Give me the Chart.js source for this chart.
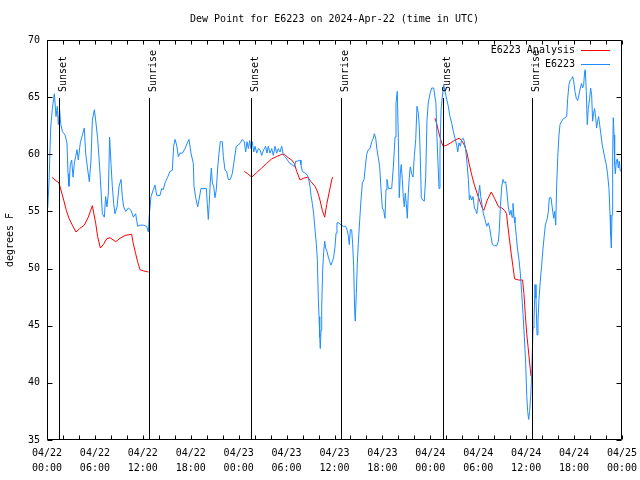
<!DOCTYPE html>
<html>
<head>
<meta charset="utf-8">
<title>Dew Point for E6223</title>
<script src="https://cdn.jsdelivr.net/npm/chart.js@4.4.1/dist/chart.umd.min.js"></script>
<style>
  html, body { margin: 0; padding: 0; background: #fff; }
</style>
</head>
<body>
<canvas id="dewpoint" width="640" height="480"></canvas>
<script>
const MONO = '"DejaVu Sans Mono", "Liberation Mono", monospace'
const chartTitle = 'Dew Point for E6223 on 2024-Apr-22 (time in UTC)'

// x ticks every 6 hours from 04/22 00:00 UTC
const tickDates = ['04/22', '04/22', '04/22', '04/22', '04/23', '04/23', '04/23', '04/23', '04/24', '04/24', '04/24', '04/24', '04/25']
const tickTimes = ['00:00', '06:00', '12:00', '18:00', '00:00', '06:00', '12:00', '18:00', '00:00', '06:00', '12:00', '18:00', '00:00']

// sunset / sunrise markers (hours since start)
const sunHours = [1.55, 12.8, 25.6, 36.85, 49.6, 60.75]
const sunLabels = ['Sunset', 'Sunrise', 'Sunset', 'Sunrise', 'Sunset', 'Sunrise']

// E6223 observations (hours since start, deg F)
const obsHours = [
  0.09, 0.25, 0.46, 0.67, 0.92, 1.13, 1.29, 1.42, 1.58, 1.71, 1.92, 2.25, 2.5, 2.63, 2.75, 2.92, 3.09, 3.26, 3.42, 3.59,
  3.76, 3.92, 4.17, 4.43, 4.67, 4.84, 5.05, 5.3, 5.51, 5.68, 5.93, 6.09, 6.34, 6.59, 6.76, 6.93, 7.18, 7.34, 7.51, 7.68,
  7.84, 8.01, 8.18, 8.35, 8.51, 8.77, 9.02, 9.27, 9.43, 9.6, 9.85, 10.18, 10.52, 10.81, 11.1, 11.35, 11.65, 12.06, 12.48, 12.69,
  12.81, 13.02, 13.31, 13.52, 13.74, 14.15, 14.36, 14.56, 14.78, 15.11, 15.4, 15.69, 15.86, 16.03, 16.24, 16.45, 16.65, 16.94, 17.28, 17.57,
  17.78, 18.03, 18.32, 18.41, 18.62, 18.87, 19.03, 19.28, 19.95, 20.07, 20.2, 20.32, 20.45, 20.58, 20.7, 20.87, 21.04, 21.2, 21.37, 21.54,
  21.7, 21.95, 22.08, 22.29, 22.5, 22.7, 22.95, 23.2, 23.45, 23.7, 23.96, 24.2, 24.45, 24.7, 24.88, 25.04, 25.21, 25.38, 25.54, 25.71,
  25.88, 26.05, 26.26, 26.46, 26.67, 26.88, 27.13, 27.38, 27.54, 27.71, 27.92, 28.14, 28.34, 28.55, 28.76, 28.96, 29.18, 29.39, 29.6, 29.8,
  30.0, 30.2, 30.4, 30.7, 30.97, 31.14, 31.39, 31.68, 31.8, 31.97, 32.22, 32.47, 32.72, 32.93, 33.06, 33.22, 33.39, 33.56, 33.72, 33.85,
  33.97, 34.06, 34.15, 34.22, 34.31, 34.4, 34.52, 34.65, 34.77, 34.9, 35.06, 35.23, 35.4, 35.56, 35.72, 35.9, 36.06, 36.19, 36.31, 36.56,
  36.81, 37.1, 37.4, 37.56, 37.73, 37.85, 37.98, 38.15, 38.27, 38.4, 38.52, 38.6, 38.73, 38.86, 38.98, 39.16, 39.32, 39.49, 39.7, 39.86,
  40.03, 40.23, 40.45, 40.66, 40.86, 40.99, 41.16, 41.32, 41.49, 41.66, 41.82, 41.99, 42.16, 42.32, 42.45, 42.57, 42.74, 43.16, 43.36, 43.58,
  43.7, 43.86, 43.99, 44.11, 44.24, 44.36, 44.49, 44.61, 44.74, 44.86, 44.99, 45.12, 45.24, 45.37, 45.49, 45.66, 45.83, 45.99, 46.17, 46.33,
  46.5, 46.62, 46.74, 46.87, 47.04, 47.24, 47.42, 47.58, 47.74, 47.96, 48.17, 48.42, 48.58, 48.7, 48.83, 48.96, 49.09, 49.21, 49.34, 49.5,
  49.67, 49.84, 50.05, 50.25, 50.46, 50.68, 50.88, 51.09, 51.3, 51.43, 51.59, 51.76, 51.93, 52.13, 52.26, 52.43, 52.6, 52.76, 52.89, 53.01,
  53.18, 53.35, 53.52, 53.68, 53.81, 53.93, 54.06, 54.18, 54.31, 54.47, 54.64, 54.85, 55.06, 55.27, 55.44, 55.6, 55.77, 56.02, 56.31, 56.52,
  56.64, 56.77, 56.94, 57.1, 57.26, 57.44, 57.6, 57.76, 57.94, 58.1, 58.23, 58.35, 58.48, 58.6, 58.77, 58.93, 59.1, 59.27, 59.44, 59.6,
  59.77, 59.94, 60.07, 60.19, 60.31, 60.44, 60.57, 60.69, 60.86, 60.98, 61.11, 61.23, 61.36, 61.48, 61.61, 61.77, 61.94, 62.11, 62.27, 62.4,
  62.52, 62.65, 62.78, 62.9, 63.11, 63.27, 63.45, 63.57, 63.7, 63.82, 63.95, 64.11, 64.24, 64.45, 64.65, 64.86, 65.07, 65.2, 65.36, 65.53,
  65.7, 65.82, 65.95, 66.11, 66.28, 66.45, 66.61, 66.78, 66.94, 67.07, 67.2, 67.32, 67.4, 67.53, 67.65, 67.78, 67.95, 68.07, 68.2, 68.32,
  68.45, 68.57, 68.7, 68.82, 68.95, 69.07, 69.2, 69.37, 69.53, 69.7, 69.87, 70.03, 70.2, 70.37, 70.5, 70.58, 70.66, 70.75, 70.83, 70.91,
  71.0, 71.08, 71.16, 71.29, 71.41, 71.54, 71.66, 71.79
]
const obsDewF = [
  55.3, 57.5, 62.3, 64.0, 65.3, 63.3, 64.2, 62.6, 63.9, 62.7, 62.0, 61.7, 61.0, 58.3, 57.2, 59.1, 59.5, 58.0, 59.2, 59.8,
  60.4, 59.5, 61.0, 61.7, 62.3, 60.1, 58.9, 57.6, 59.5, 63.0, 63.9, 63.0, 61.4, 58.9, 56.9, 54.8, 54.5, 56.3, 55.4, 56.6,
  61.5, 59.2, 57.2, 55.7, 54.8, 55.4, 57.2, 57.8, 56.3, 55.4, 55.0, 55.3, 55.1, 54.5, 54.8, 53.7, 53.8, 53.8, 53.7, 53.2,
  54.7, 56.3, 56.9, 57.3, 56.4, 56.4, 57.0, 56.9, 57.5, 58.0, 58.5, 58.6, 60.7, 61.3, 60.8, 59.8, 60.1, 60.1, 60.5, 61.0,
  61.3, 60.1, 59.2, 57.2, 56.2, 55.4, 56.0, 57.0, 57.0, 55.7, 54.3, 55.7, 57.6, 58.8, 57.5, 57.2, 56.2, 56.9, 58.8, 60.1,
  61.1, 61.1, 59.8, 58.6, 58.5, 57.8, 57.8, 58.3, 59.5, 60.7, 60.8, 61.0, 61.3, 61.1, 60.2, 61.1, 60.5, 61.2, 60.5, 61.1,
  60.2, 60.7, 60.1, 60.5, 60.4, 59.9, 60.4, 60.7, 60.1, 60.7, 60.1, 60.5, 59.9, 60.7, 60.1, 60.5, 60.2, 60.7, 59.9, 59.8,
  59.6, 59.4, 59.2, 59.1, 58.9, 59.4, 59.4, 59.5, 59.1, 58.5, 58.4, 58.3, 58.0, 57.2, 56.4, 55.7, 54.8, 53.4, 52.2, 50.8,
  47.5, 45.8, 44.0, 43.0, 44.6, 46.7, 49.9, 51.5, 52.4, 51.8, 51.5, 51.0, 50.6, 50.3, 50.6, 51.0, 51.9, 53.1, 54.0, 54.0,
  53.8, 53.7, 53.7, 53.4, 52.9, 52.1, 53.4, 53.4, 52.2, 50.2, 46.4, 45.4, 47.8, 50.5, 52.2, 54.3, 56.0, 57.5, 57.8, 58.9,
  60.0, 60.4, 60.5, 61.1, 61.4, 61.8, 61.4, 60.4, 59.7, 58.9, 57.0, 55.3, 55.1, 54.4, 56.9, 57.8, 57.0, 57.0, 58.8, 61.5,
  64.5, 65.5, 61.5, 56.2, 58.3, 59.1, 57.8, 56.3, 55.4, 56.6, 55.7, 54.4, 56.6, 58.0, 58.9, 58.3, 58.0, 59.8, 61.3, 64.2,
  63.6, 62.4, 59.8, 56.2, 56.0, 55.9, 58.0, 63.0, 64.5, 65.3, 65.8, 65.8, 65.0, 64.5, 61.5, 59.2, 57.0, 60.1, 63.9, 65.0,
  66.1, 65.5, 64.8, 64.2, 63.3, 62.7, 62.0, 61.4, 60.8, 60.2, 61.0, 60.7, 61.3, 61.4, 61.1, 60.4, 59.2, 57.8, 56.0, 56.4,
  56.0, 56.3, 55.3, 55.1, 54.8, 55.4, 56.6, 57.3, 56.3, 55.6, 54.8, 54.3, 53.7, 54.0, 53.5, 52.8, 52.1, 52.0, 52.0, 52.4,
  53.4, 55.4, 57.2, 57.8, 57.5, 57.6, 56.6, 55.4, 54.7, 55.1, 54.5, 55.7, 54.5, 54.0, 52.8, 51.6, 50.8, 49.6, 47.8, 46.1,
  44.0, 41.7, 38.9, 37.5, 36.8, 37.5, 38.9, 40.7, 44.8, 45.4, 48.6, 47.4, 44.2, 45.4, 47.4, 48.9, 50.3, 51.8, 52.9, 53.8,
  54.1, 54.4, 55.0, 56.2, 56.2, 55.3, 54.4, 55.0, 53.8, 57.3, 59.7, 61.7, 62.6, 62.9, 63.1, 63.2, 63.3, 64.9, 66.1, 66.5,
  66.6, 66.8, 66.4, 65.5, 64.9, 64.7, 65.2, 65.8, 66.2, 65.8, 66.1, 67.2, 67.4, 65.5, 62.6, 64.0, 64.9, 65.8, 65.2, 62.9,
  63.6, 64.0, 63.2, 62.3, 62.9, 63.3, 62.6, 61.7, 60.8, 60.2, 59.6, 59.1, 58.2, 57.0, 54.7, 52.9, 51.8, 54.7, 59.9, 63.2,
  61.7, 59.1, 58.3, 59.4, 59.6, 58.8, 59.4, 58.5
]

// E6223 Analysis (null = gap between overnight runs)
const anaHours = [
  0.67, 1.0, 1.5, 2.09, 2.42, 2.75, 3.17, 3.63, 4.09, 4.67, 5.17, 5.68, 6.09, 6.34, 6.68, 7.05, 7.47, 7.89, 8.6, 9.14,
  9.77, 10.6, 10.8, 11.1, 11.35, 11.65, 12.06, 12.69,
  18.0,
  24.7, 25.13, 25.63, 26.26, 26.88, 27.5, 28.14, 28.76, 29.39, 29.72, 30.2, 30.64, 30.97, 31.27, 31.68, 32.1, 32.65, 33.06, 33.56, 33.89,
  34.18, 34.47, 34.77, 35.02, 35.31, 35.65, 35.77,
  42.0,
  48.58, 48.79, 48.99, 49.21, 49.42, 49.62, 50.05, 50.46, 51.09, 51.59, 51.93, 52.26, 52.56, 52.85, 53.18, 53.52, 53.85, 54.22, 54.5, 54.7,
  55.13, 55.63, 56.04, 56.54, 56.95, 57.29, 57.54, 57.71, 57.92, 58.13, 58.34, 58.55, 59.05, 59.55, 59.72, 59.9, 60.07, 60.23, 60.4, 60.6
]
const anaDewF = [
  58.0, 57.75, 57.5, 56.0, 55.1, 54.4, 53.8, 53.2, 53.5, 53.8, 54.5, 55.5, 54.0, 52.8, 51.8, 52.1, 52.6, 52.7, 52.35, 52.65,
  52.9, 53.0, 52.2, 51.3, 50.6, 49.9, 49.8, 49.7,
  null,
  58.5, 58.3, 58.0, 58.4, 58.8, 59.2, 59.6, 59.8, 60.0, 60.0, 59.7, 59.5, 59.2, 58.5, 57.75, 57.9, 58.0, 57.6, 57.2, 56.7,
  56.0, 55.1, 54.5, 55.6, 56.6, 57.75, 58.0,
  null,
  63.15, 62.7, 62.1, 61.5, 61.0, 60.7, 60.8, 60.96, 61.25, 61.4, 61.2, 60.8, 60.2, 59.2, 58.2, 57.3, 56.6, 55.85, 55.3, 55.1,
  56.0, 56.7, 56.15, 55.4, 55.3, 55.1, 54.8, 53.7, 52.5, 51.3, 50.2, 49.1, 49.0, 49.0, 47.8, 45.9, 44.3, 43.2, 42.0, 40.6
]

const toPoints = (xs, ys) => xs.map((h, i) => ({ x: h, y: ys[i] }))

// gnuplot-like frame: inward ticks, sun markers, title, legend
const gnuplotFrame = {
  id: 'gnuplotFrame',
  beforeDraw(chart) {
    const ctx = chart.ctx
    ctx.save()
    ctx.fillStyle = '#fff'
    ctx.fillRect(0, 0, chart.width, chart.height)
    ctx.restore()
  },
  afterDraw(chart) {
    const { ctx, chartArea: a, scales: { x, y } } = chart
    const L = Math.round(a.left) + 0.5, R = Math.round(a.right) - 0.5
    const T = Math.round(a.top) + 0.5, B = Math.round(a.bottom) - 0.5
    ctx.save()
    ctx.strokeStyle = '#000'
    ctx.fillStyle = '#000'
    ctx.lineWidth = 1
    ctx.font = '10px ' + MONO

    // sunrise / sunset lines
    const lineTop = Math.round(a.top + (a.bottom - a.top) * 0.145)
    sunHours.forEach((h, i) => {
      const px = Math.round(x.getPixelForValue(h)) + 0.5
      ctx.beginPath()
      ctx.moveTo(px, lineTop)
      ctx.lineTo(px, B)
      ctx.stroke()
      ctx.save()
      ctx.translate(px + 6, lineTop - 6)
      ctx.rotate(-Math.PI / 2)
      ctx.textAlign = 'left'
      ctx.textBaseline = 'alphabetic'
      ctx.fillText(sunLabels[i], 0, 0)
      ctx.restore()
    })

    // border
    ctx.beginPath()
    ctx.rect(L, T, R - L, B - T)
    ctx.stroke()

    // inward ticks
    ctx.beginPath()
    x.ticks.forEach(t => {
      const px = Math.round(x.getPixelForValue(t.value)) + 0.5
      ctx.moveTo(px, B); ctx.lineTo(px, B - 4)
      ctx.moveTo(px, T); ctx.lineTo(px, T + 4)
    })
    y.ticks.forEach(t => {
      const py = Math.round(y.getPixelForValue(t.value)) + 0.5
      ctx.moveTo(L, py); ctx.lineTo(L + 5, py)
      ctx.moveTo(R, py); ctx.lineTo(R - 5, py)
    })
    ctx.stroke()

    // title
    ctx.textAlign = 'center'
    ctx.textBaseline = 'middle'
    ctx.fillText(chartTitle, (a.left + a.right) / 2, 19)

    // legend, text left of sample line
    ctx.textAlign = 'right'
    chart.data.datasets.forEach((ds, i) => {
      const ly = Math.round(a.top + 10 + i * 13.5) + 0.5
      ctx.fillStyle = '#000'
      ctx.fillText(ds.label, a.right - 47, ly)
      ctx.strokeStyle = ds.borderColor
      ctx.beginPath()
      ctx.moveTo(a.right - 41, ly)
      ctx.lineTo(a.right - 12, ly)
      ctx.stroke()
    })
    ctx.restore()
  }
}

const cxDew = document.getElementById('dewpoint').getContext('2d')
const DewChart = new Chart(cxDew, {
  type: 'line',
  data: {
    datasets: [
      {
        label: 'E6223 Analysis',
        data: toPoints(anaHours, anaDewF),
        borderColor: '#ff0000',
        borderWidth: 1,
        pointRadius: 0,
        tension: 0,
        spanGaps: false,
        order: 2
      },
      {
        label: 'E6223',
        data: toPoints(obsHours, obsDewF),
        borderColor: '#1e8cff',
        borderWidth: 1,
        pointRadius: 0,
        tension: 0,
        order: 1
      }
    ]
  },
  options: {
    responsive: false,
    animation: false,
    layout: { padding: { top: 40, right: 18, left: 0, bottom: 0 } },
    plugins: {
      legend: { display: false },
      tooltip: { enabled: false },
      title: { display: false }
    },
    scales: {
      x: {
        type: 'linear',
        min: 0,
        max: 72,
        grid: { display: false, drawTicks: false },
        border: { display: false },
        afterFit: s => { s.height = 40; s.paddingLeft = 0; s.paddingRight = 0 },
        ticks: {
          stepSize: 2,
          autoSkip: false,
          maxRotation: 0,
          padding: 6,
          color: '#000',
          font: { family: MONO, size: 10, lineHeight: 1.5 },
          callback: v => (v % 6 === 0 ? [tickDates[v / 6], tickTimes[v / 6]] : '')
        }
      },
      y: {
        min: 35,
        max: 70,
        grid: { display: false, drawTicks: false },
        border: { display: false },
        afterFit: s => { s.width = 47; s.paddingTop = 0; s.paddingBottom = 0 },
        title: {
          display: true,
          text: 'degrees F',
          color: '#000',
          padding: { top: 4, bottom: 0 },
          font: { family: MONO, size: 10 }
        },
        ticks: {
          stepSize: 5,
          padding: 7,
          color: '#000',
          font: { family: MONO, size: 10 }
        }
      }
    }
  },
  plugins: [gnuplotFrame]
})
</script>
</body>
</html>
